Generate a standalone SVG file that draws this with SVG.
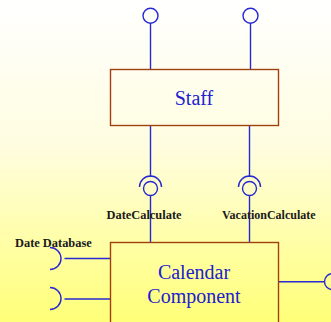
<svg xmlns="http://www.w3.org/2000/svg" width="331" height="322" viewBox="0 0 331 322">
  <defs>
    <linearGradient id="bg" x1="0" y1="0" x2="0" y2="1">
      <stop offset="0" stop-color="#ffffff"/>
      <stop offset="0.45" stop-color="#fffde0"/>
      <stop offset="1" stop-color="#ffff78"/>
    </linearGradient>
    <style>
      .box { fill: none; stroke: #a0400f; stroke-width: 1.4; }
      .wire { fill: none; stroke: #2828d2; stroke-width: 1.4; }
      .name { font-family: "Liberation Serif", "Times New Roman", serif; font-size: 20px; fill: #2020d0; text-anchor: middle; }
      .label { font-family: "Liberation Serif", "Times New Roman", serif; font-size: 12.4px; font-weight: bold; fill: #1a1a1a; }
    </style>
  </defs>

  <rect x="0" y="0" width="331" height="322" fill="url(#bg)"/>

  <!-- connectors: lollipops and sockets -->
  <g id="connectors">
    <!-- provided interfaces on top of Staff -->
    <circle class="wire" cx="150.5" cy="15.7" r="7.5"/>
    <line class="wire" x1="150.5" y1="23.2" x2="150.5" y2="69.5"/>
    <circle class="wire" cx="250.5" cy="15.7" r="7.5"/>
    <line class="wire" x1="250.5" y1="23.2" x2="250.5" y2="69.5"/>

    <!-- Staff requires DateCalculate -->
    <line class="wire" x1="150.5" y1="125.5" x2="150.5" y2="177"/>
    <path class="wire" d="M139.5 187 A11 11 0 0 1 161.5 187"/>
    <circle class="wire" cx="150.5" cy="188.5" r="7"/>
    <line class="wire" x1="150.5" y1="195.5" x2="150.5" y2="242.5"/>

    <!-- Staff requires VacationCalculate -->
    <line class="wire" x1="249.5" y1="125.5" x2="249.5" y2="177"/>
    <path class="wire" d="M238.5 187 A11 11 0 0 1 260.5 187"/>
    <circle class="wire" cx="249.5" cy="188.5" r="7"/>
    <line class="wire" x1="249.5" y1="195.5" x2="249.5" y2="242.5"/>

    <!-- required interfaces on the left of Calendar Component -->
    <path class="wire" d="M50 247.5 A11 11 0 0 1 50 269.5"/>
    <line class="wire" x1="64.5" y1="258.5" x2="110.5" y2="258.5"/>
    <path class="wire" d="M50 287.5 A11 11 0 0 1 50 309.5"/>
    <line class="wire" x1="64.5" y1="299" x2="110.5" y2="299"/>

    <!-- provided interface on the right -->
    <line class="wire" x1="278.5" y1="281.7" x2="324.5" y2="281.7"/>
    <circle class="wire" cx="332.5" cy="281.7" r="8"/>
  </g>

  <g id="staff">
    <rect class="box" x="110.5" y="69.5" width="168" height="56"/>
    <text class="name" x="194" y="105">Staff</text>
  </g>

  <g id="calendar-component">
    <rect class="box" x="110.5" y="242.5" width="168" height="100"/>
    <text class="name" x="194" y="278.5">Calendar</text>
    <text class="name" x="194" y="302.5">Component</text>
  </g>

  <g id="labels">
    <text class="label" x="106.5" y="219.3">DateCalculate</text>
    <text class="label" x="222" y="219.3" style="font-size:12px">VacationCalculate</text>
    <text class="label" x="15" y="246.5">Date Database</text>
  </g>
</svg>
